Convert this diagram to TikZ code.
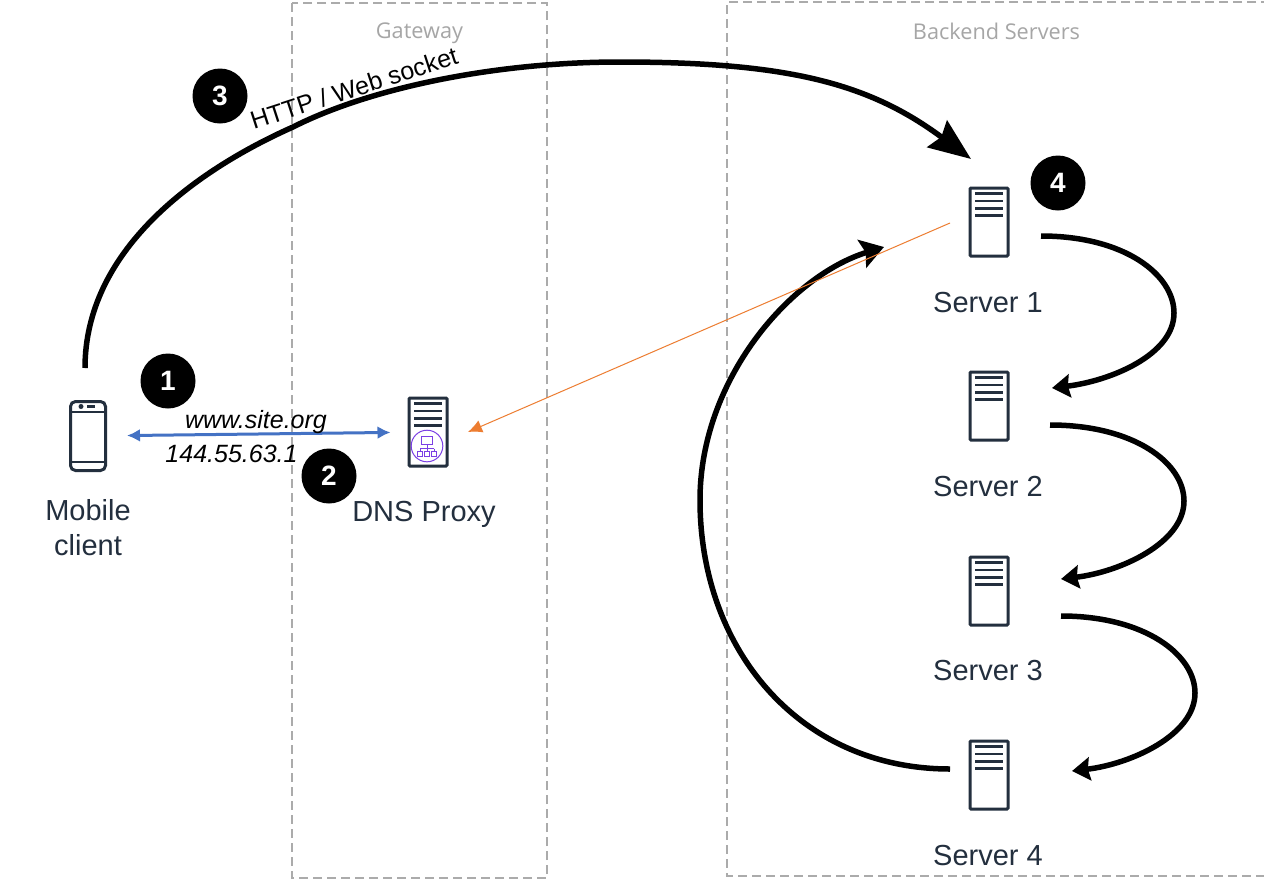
\documentclass[tikz,border=0pt]{standalone}
\usepackage{fontspec}
\setmainfont{Liberation Sans}
\newfontfamily\grpfont{Open Sans}
\usetikzlibrary{arrows.meta}
\definecolor{navy}{HTML}{232F3E}
\definecolor{dashgray}{HTML}{ABABAB}
\definecolor{labgray}{HTML}{A6A6A6}
\definecolor{arrowblue}{HTML}{4472C4}
\definecolor{arroworange}{HTML}{ED7D31}
\definecolor{dnspurple}{HTML}{7B3FE4}
\tikzset{
  grpbox/.style={draw=dashgray,line width=2pt,dash pattern=on 9pt off 5pt},
  grplabel/.style={text=labgray,font=\grpfont\fontsize{21.7}{24}\selectfont,inner sep=0pt},
  iconbox/.style={draw=navy,line width=3pt,rounded corners=1pt,minimum width=38pt,minimum height=68pt,inner sep=0pt,fill=white},
  phonebox/.style={draw=navy,line width=3pt,rounded corners=5pt,minimum width=35pt,minimum height=69pt,inner sep=0pt,fill=white},
  iconbar/.style={draw=navy,line width=2.6pt},
  iconlabel/.style={text=navy,font=\fontsize{29}{35}\selectfont,inner sep=0pt,align=center},
  italiclabel/.style={text=black,font=\itshape\fontsize{25}{28}\selectfont,inner sep=0pt},
  badge/.style={circle,fill=black,minimum size=55pt,inner sep=0pt,text=white,font=\bfseries\fontsize{28}{30}\selectfont},
  bigflow/.style={draw=black,line width=5.5pt,-{Stealth[length=42pt,width=33pt,inset=5pt]}},
  leftflow/.style={draw=black,line width=5.5pt,-{Stealth[length=23pt,width=29pt,inset=4pt]}},
  smallflow/.style={draw=black,line width=5.5pt,-{Stealth[length=18pt,width=23pt,inset=2pt]}},
  blueflow/.style={draw=arrowblue,line width=3pt,{Latex[length=13pt,width=13pt]}-{Latex[length=13pt,width=13pt]}},
  orangeflow/.style={draw=arroworange,line width=1pt,-{Latex[length=14pt,width=13pt]}},
  dnsmark/.style={draw=dnspurple,line width=1pt}
}
\newcommand{\servericon}[3]{%
  \node[iconbox] (#1) at (#2,#3) {};
  \foreach \dy in {-28.5,-21.2,-13.8,-6.5}
    \draw[iconbar] (#2-14,#3+\dy) -- (#2+14,#3+\dy);
}
\begin{document}
\begin{tikzpicture}[x=1pt,y=-1pt]
\useasboundingbox (0,0) rectangle (1264,889);
\fill[white] (0,0) rectangle (1264,889);

% group frames
\draw[grpbox] (292,3) rectangle (547,878);
\draw[grpbox] (1270,2) -- (727,2) -- (727,876) -- (1270,876);
\node[grplabel] (gatewaylabel) at (419.5,33) {Gateway};
\node[grplabel] (backendlabel) at (996.5,31) {Backend Servers};

% server icons
\servericon{s1}{989}{222}
\servericon{s2}{989}{406}
\servericon{s3}{989}{591}
\servericon{s4}{989}{775}
\servericon{dns}{428}{432}

% DNS proxy badge
\draw[dnsmark] (427,446) circle (15.8);
\draw[dnsmark] (421.5,436.5) rectangle (432.5,444);
\draw[dnsmark] (427,444) -- (427,448.5);
\draw[dnsmark] (420,448.5) -- (434,448.5);
\draw[dnsmark] (420,448.5) -- (420,451);
\draw[dnsmark] (427,448.5) -- (427,451);
\draw[dnsmark] (434,448.5) -- (434,451);
\draw[dnsmark] (417.5,451) rectangle (422.5,456);
\draw[dnsmark] (424.5,451) rectangle (429.5,456);
\draw[dnsmark] (431.5,451) rectangle (436.5,456);

% phone icon
\node[phonebox] (mobile) at (88,436) {};
\draw[navy,line width=2.6pt] (mobile.west |- 0,412) -- (mobile.east |- 0,412);
\draw[navy,line width=2.6pt] (mobile.west |- 0,462) -- (mobile.east |- 0,462);
\fill[navy] (81,406.5) circle (2.5);
\draw[navy,line width=2.4pt] (87,406.5) -- (95,406.5);

% labels
\node[iconlabel] (mobilelabel) at (88,528) {Mobile\\client};
\node[iconlabel] (dnslabel) at (424,514) {DNS Proxy};
\node[iconlabel] (s1label) at (988,303) {Server 1};
\node[iconlabel] (s2label) at (988,487) {Server 2};
\node[iconlabel] (s3label) at (988,671) {Server 3};
\node[iconlabel] (s4label) at (988,856) {Server 4};

% connector ends
\coordinate (bigstart) at (85,368);
\coordinate (bigmid) at (293,127);
\coordinate (bigtop) at (620,62);
\coordinate (bigend) at (971,159);
\coordinate (oa) at (1041,236);
\coordinate (oam) at (1174,313);
\coordinate (ob) at (1052,388);
\coordinate (pa) at (1050,425);
\coordinate (pam) at (1184,501);
\coordinate (pb) at (1061,579);
\coordinate (qa) at (1061,616);
\coordinate (qam) at (1195,693);
\coordinate (qb) at (1072,771);
\coordinate (ra) at (950,769);
\coordinate (ram) at (700,500);
\coordinate (rb) at (884,247);
\coordinate (orangea) at (950,223);
\coordinate (orangeb) at (468,432);

% connectors
\draw[bigflow] (bigstart) .. controls (85,252) and (192,172) .. (bigmid) .. controls (370,88) and (495,62) .. (bigtop) .. controls (790,62) and (870,84) .. (bigend);
\draw[smallflow] (oa) .. controls (1125,236) and (1174,275) .. (oam) .. controls (1174,355) and (1110,381) .. (ob);
\draw[smallflow] (pa) .. controls (1134,425) and (1184,463) .. (pam) .. controls (1184,543) and (1120,572) .. (pb);
\draw[smallflow] (qa) .. controls (1145,616) and (1195,655) .. (qam) .. controls (1195,735) and (1131,764) .. (qb);
\draw[leftflow] (ra) .. controls (800,769) and (700,650) .. (ram) .. controls (700,380) and (790,276) .. (rb);
\draw[orangeflow] (orangea) -- (orangeb);
\draw[blueflow,shorten <=20pt,shorten >=17pt] (mobile) -- (dns);

% flow texts
\node[italiclabel] (sitelabel) at (256,422) {www.site.org};
\node[italiclabel] (iplabel) at (231.5,454) {144.55.63.1};
\node[text=black,font=\fontsize{25}{28}\selectfont,inner sep=0pt,rotate=18] (httplabel) at (354,88) {HTTP / Web socket};

% badges
\node[badge] (b1) at (168,381) {1};
\node[badge] (b2) at (329,476) {2};
\node[badge] (b3) at (220,96) {3};
\node[badge] (b4) at (1058,183) {4};
\end{tikzpicture}
\end{document}
